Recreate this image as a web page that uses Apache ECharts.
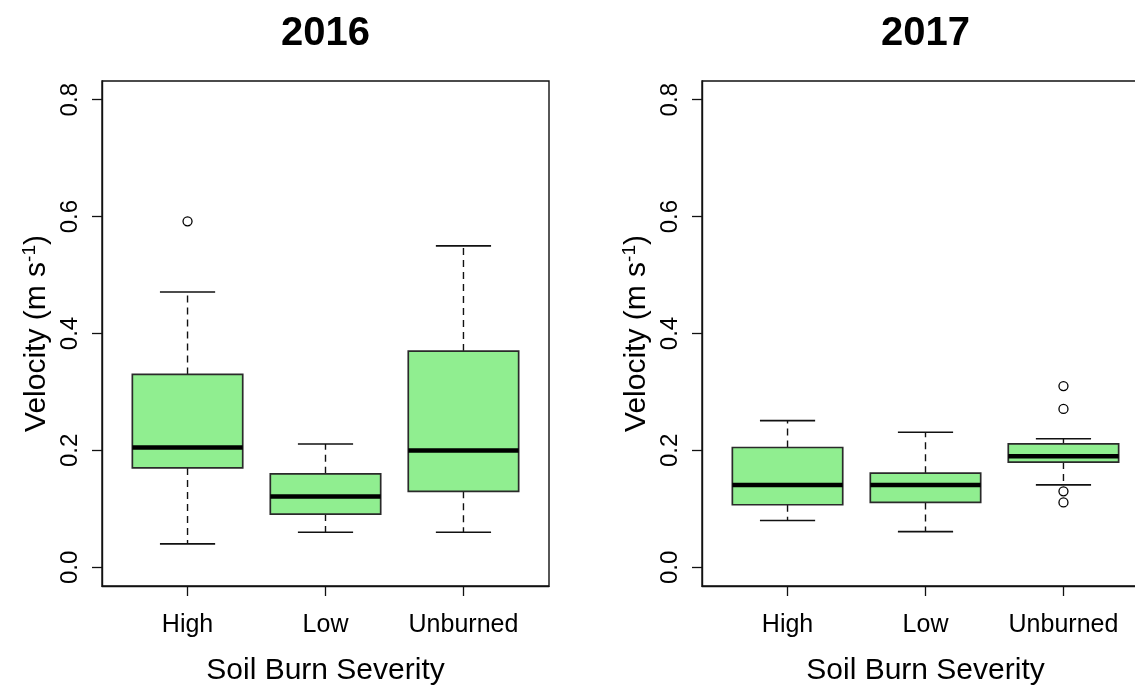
<!DOCTYPE html>
<html>
<head>
<meta charset="utf-8">
<script src="https://cdn.jsdelivr.net/npm/echarts@6/dist/echarts.min.js"></script>
<style>
  html, body { margin: 0; padding: 0; background: #fff; overflow: hidden; }
  #chart { width: 1150px; height: 691px; }
</style>
</head>
<body>
<div id="chart"></div>
<script>
// Soil burn severity classes (x categories)
const categories = ['High', 'Low', 'Unburned'];
// Box statistics per class: [lower whisker, Q1, median, Q3, upper whisker]
const stats2016 = [
  [0.040, 0.170, 0.205, 0.330, 0.471],
  [0.060, 0.091, 0.121, 0.160, 0.211],
  [0.060, 0.130, 0.200, 0.370, 0.550]
];
const stats2017 = [
  [0.080, 0.107, 0.141, 0.205, 0.251],
  [0.061, 0.111, 0.141, 0.161, 0.231],
  [0.141, 0.180, 0.190, 0.211, 0.220]
];
// Outlying observations: [class, velocity]
const outliers2016 = [['High', 0.592]];
const outliers2017 = [['Unburned', 0.310], ['Unburned', 0.271], ['Unburned', 0.130], ['Unburned', 0.111]];
// Y tick labels
const yTicks = [0.0, 0.2, 0.4, 0.6, 0.8];
const panelTitles = ['2016', '2017'];

const FONT = 'Liberation Sans, Arial, Helvetica, sans-serif';

function boxData(stats) {
  return stats.map((s, i) => [i + 1].concat(s));
}
function pointData(list) {
  return list.map(d => [categories.indexOf(d[0]) + 1, d[1]]);
}

function renderBox(params, api) {
  const x = api.value(0);
  const lo = api.coord([x, api.value(1)]);
  const q1 = api.coord([x, api.value(2)]);
  const med = api.coord([x, api.value(3)]);
  const q3 = api.coord([x, api.value(4)]);
  const hi = api.coord([x, api.value(5)]);
  const half = api.size([0.4, 0])[0];
  const cap = api.size([0.2, 0])[0];
  const cx = lo[0];
  const dash = { stroke: '#111', lineWidth: 1.4, lineDash: [7, 5], fill: null };
  const solid = { stroke: '#111', lineWidth: 1.6, fill: null };
  return {
    type: 'group',
    children: [
      { type: 'line', shape: { x1: cx, y1: q3[1], x2: cx, y2: hi[1] }, style: dash },
      { type: 'line', shape: { x1: cx, y1: q1[1], x2: cx, y2: lo[1] }, style: dash },
      { type: 'line', shape: { x1: cx - cap, y1: hi[1], x2: cx + cap, y2: hi[1] }, style: solid },
      { type: 'line', shape: { x1: cx - cap, y1: lo[1], x2: cx + cap, y2: lo[1] }, style: solid },
      { type: 'rect', shape: { x: cx - half, y: q3[1], width: 2 * half, height: q1[1] - q3[1] },
        style: { fill: '#90EE90', stroke: '#2a2a2a', lineWidth: 1.7 } },
      { type: 'line', shape: { x1: cx - half, y1: med[1], x2: cx + half, y2: med[1] },
        style: { stroke: '#000', lineWidth: 4.5 } }
    ]
  };
}

const gridLefts = [102, 702];
const grids = gridLefts.map(l => ({
  left: l, top: 81, width: 447, height: 508,
  show: true, borderColor: '#111', borderWidth: 1.4, backgroundColor: 'transparent'
}));

const xAxes = gridLefts.map((l, i) => ({
  type: 'value', gridIndex: i, min: 0.38, max: 3.62,
  name: 'Soil Burn Severity', nameLocation: 'middle', nameGap: 70,
  nameTextStyle: { fontFamily: FONT, fontSize: 30, color: '#000' },
  axisLine: { show: true, onZero: false, lineStyle: { color: '#111', width: 1.4 } },
  axisTick: { show: true, customValues: [1, 2, 3], length: 10, lineStyle: { color: '#111', width: 1.3 } },
  axisLabel: { customValues: [1, 2, 3], formatter: v => categories[Math.round(v) - 1],
    fontFamily: FONT, fontSize: 25, color: '#000', margin: 27 },
  splitLine: { show: false }
}));

const yAxes = gridLefts.map((l, i) => ({
  type: 'value', gridIndex: i, min: -0.032, max: 0.832,
  name: 'Velocity (m s{sup|-1}{p|)}', nameLocation: 'middle', nameGap: 48, nameRotate: 90,
  nameTextStyle: { fontFamily: FONT, fontSize: 30, color: '#000',
    rich: {
      sup: { fontFamily: FONT, fontSize: 19, color: '#000', verticalAlign: 'top', lineHeight: 34 },
      p: { fontFamily: FONT, fontSize: 30, color: '#000' }
    } },
  axisLine: { show: true, onZero: false, lineStyle: { color: '#111', width: 1.4 } },
  axisTick: { show: true, customValues: yTicks, length: 10, lineStyle: { color: '#111', width: 1.3 } },
  axisLabel: { customValues: yTicks, formatter: v => v.toFixed(1), rotate: 90,
    fontFamily: FONT, fontSize: 24, color: '#000', margin: 20 },
  splitLine: { show: false }
}));

const series = [];
[stats2016, stats2017].forEach((st, i) => {
  series.push({
    type: 'custom', xAxisIndex: i, yAxisIndex: i,
    renderItem: renderBox, data: boxData(st),
    encode: { x: 0, y: [1, 2, 3, 4, 5] }, silent: true
  });
});
[outliers2016, outliers2017].forEach((ol, i) => {
  series.push({
    type: 'scatter', xAxisIndex: i, yAxisIndex: i, data: pointData(ol),
    symbol: 'circle', symbolSize: 9,
    itemStyle: { color: '#fff', borderColor: '#000', borderWidth: 1.3, opacity: 1 },
    silent: true, z: 5
  });
});

const titleGraphics = panelTitles.map((t, i) => ({
  type: 'text', x: gridLefts[i] + 223.5, y: 34,
  style: { text: t, fontFamily: FONT, fontSize: 40, fontWeight: 'bold', fill: '#000',
    align: 'center', verticalAlign: 'middle' }
}));

const chart = echarts.init(document.getElementById('chart'), null, { renderer: 'canvas' });
chart.setOption({
  animation: false,
  backgroundColor: '#fff',
  grid: grids,
  xAxis: xAxes,
  yAxis: yAxes,
  series: series,
  graphic: titleGraphics
});
</script>
</body>
</html>
